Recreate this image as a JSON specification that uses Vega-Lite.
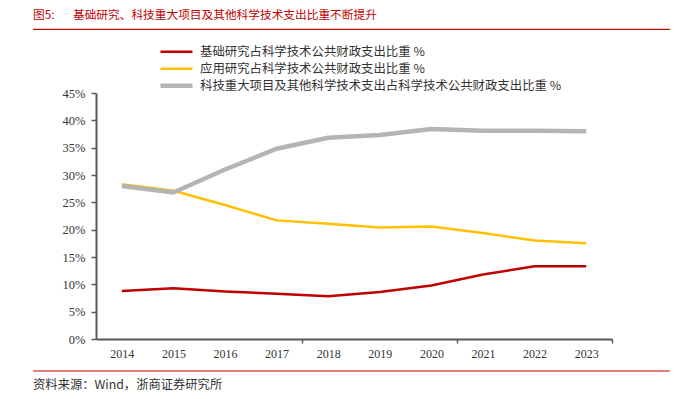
{
  "$schema": "https://vega.github.io/schema/vega-lite/v6.json",
  "width": 516,
  "height": 246,
  "autosize": "none",
  "padding": {"left": 96, "top": 93, "right": 72, "bottom": 60},
  "background": "white",
  "config": {"view": {"stroke": null}, "font": "Liberation Serif"},
  "datasets": {
    "series": [
      {"year": 2014, "series": "基础研究占科学技术公共财政支出比重 %", "value": 8.8},
      {"year": 2015, "series": "基础研究占科学技术公共财政支出比重 %", "value": 9.3},
      {"year": 2016, "series": "基础研究占科学技术公共财政支出比重 %", "value": 8.7},
      {"year": 2017, "series": "基础研究占科学技术公共财政支出比重 %", "value": 8.3},
      {"year": 2018, "series": "基础研究占科学技术公共财政支出比重 %", "value": 7.8},
      {"year": 2019, "series": "基础研究占科学技术公共财政支出比重 %", "value": 8.6},
      {"year": 2020, "series": "基础研究占科学技术公共财政支出比重 %", "value": 9.8},
      {"year": 2021, "series": "基础研究占科学技术公共财政支出比重 %", "value": 11.8},
      {"year": 2022, "series": "基础研究占科学技术公共财政支出比重 %", "value": 13.3},
      {"year": 2023, "series": "基础研究占科学技术公共财政支出比重 %", "value": 13.3},
      {"year": 2014, "series": "应用研究占科学技术公共财政支出比重 %", "value": 28.3},
      {"year": 2015, "series": "应用研究占科学技术公共财政支出比重 %", "value": 27.1},
      {"year": 2016, "series": "应用研究占科学技术公共财政支出比重 %", "value": 24.5},
      {"year": 2017, "series": "应用研究占科学技术公共财政支出比重 %", "value": 21.7},
      {"year": 2018, "series": "应用研究占科学技术公共财政支出比重 %", "value": 21.1},
      {"year": 2019, "series": "应用研究占科学技术公共财政支出比重 %", "value": 20.4},
      {"year": 2020, "series": "应用研究占科学技术公共财政支出比重 %", "value": 20.6},
      {"year": 2021, "series": "应用研究占科学技术公共财政支出比重 %", "value": 19.4},
      {"year": 2022, "series": "应用研究占科学技术公共财政支出比重 %", "value": 18.0},
      {"year": 2023, "series": "应用研究占科学技术公共财政支出比重 %", "value": 17.5},
      {"year": 2014, "series": "科技重大项目及其他科学技术支出占科学技术公共财政支出比重 %", "value": 28.0},
      {"year": 2015, "series": "科技重大项目及其他科学技术支出占科学技术公共财政支出比重 %", "value": 26.8},
      {"year": 2016, "series": "科技重大项目及其他科学技术支出占科学技术公共财政支出比重 %", "value": 31.0},
      {"year": 2017, "series": "科技重大项目及其他科学技术支出占科学技术公共财政支出比重 %", "value": 34.8},
      {"year": 2018, "series": "科技重大项目及其他科学技术支出占科学技术公共财政支出比重 %", "value": 36.8},
      {"year": 2019, "series": "科技重大项目及其他科学技术支出占科学技术公共财政支出比重 %", "value": 37.3},
      {"year": 2020, "series": "科技重大项目及其他科学技术支出占科学技术公共财政支出比重 %", "value": 38.4},
      {"year": 2021, "series": "科技重大项目及其他科学技术支出占科学技术公共财政支出比重 %", "value": 38.1},
      {"year": 2022, "series": "科技重大项目及其他科学技术支出占科学技术公共财政支出比重 %", "value": 38.1},
      {"year": 2023, "series": "科技重大项目及其他科学技术支出占科学技术公共财政支出比重 %", "value": 38.0}
    ],
    "rules": [
      {"x": -12.2, "x2": 111.2, "y": 56.65},
      {"x": -12.2, "x2": 111.2, "y": -5.85}
    ],
    "titles": [
      {"x": -12.2, "y": 59.3, "t": "图5:"},
      {"x": -4.46, "y": 59.3, "t": "基础研究、科技重大项目及其他科学技术支出比重不断提升"}
    ],
    "source": [
      {"x": -12.2, "y": -8.41, "t": "资料来源：Wind，浙商证券研究所"}
    ]
  },
  "layer": [
    {
      "data": {"name": "series"},
      "mark": {"type": "line"},
      "encoding": {
        "x": {
          "field": "year",
          "type": "ordinal",
          "scale": {"type": "band", "paddingInner": 0, "paddingOuter": 0},
          "axis": {
            "title": null,
            "labelAngle": 0,
            "tickBand": "extent",
            "tickOpacity": {"condition": {"test": "datum.value === 2017 || datum.value === 2020 || datum.value === 2023", "value": 1}, "value": 0},
            "tickColor": "#595959",
            "domainColor": "#595959",
            "domainWidth": 2,
            "tickWidth": 1.5,
            "tickSize": 4,
            "labelFont": "Liberation Serif",
            "labelFontSize": 12,
            "labelColor": "#333333",
            "labelPadding": 5
          }
        },
        "y": {
          "field": "value",
          "type": "quantitative",
          "scale": {"domain": [0, 45], "nice": false, "zero": false},
          "axis": {
            "title": null,
            "orient": "left",
            "values": [0, 5, 10, 15, 20, 25, 30, 35, 40, 45],
            "labelExpr": "datum.value + '%'",
            "labelOverlap": false,
            "labelFlush": false,
            "grid": false,
            "domainColor": "#595959",
            "domainWidth": 2,
            "tickColor": "#595959",
            "tickWidth": 1.5,
            "tickSize": 5,
            "labelFont": "Liberation Serif",
            "labelFontSize": 12.5,
            "labelColor": "#333333",
            "labelPadding": 6
          }
        },
        "color": {
          "field": "series",
          "type": "nominal",
          "scale": {
            "domain": ["基础研究占科学技术公共财政支出比重 %", "应用研究占科学技术公共财政支出比重 %", "科技重大项目及其他科学技术支出占科学技术公共财政支出比重 %"],
            "range": ["#C00000", "#FFC000", "#B4B4B4"]
          },
          "legend": {
            "orient": "none", "legendX": 62, "legendY": -49.5, "title": null,
            "symbolType": "stroke", "symbolSize": 1024, "clipHeight": 16.5, "rowPadding": 0,
            "labelFont": "Noto Sans CJK SC", "labelFontSize": 12.4, "labelColor": "#333333",
            "labelOffset": 5, "padding": 0, "labelLimit": 600
          }
        },
        "strokeWidth": {
          "field": "series",
          "type": "ordinal",
          "scale": {
            "type": "ordinal",
            "domain": ["基础研究占科学技术公共财政支出比重 %", "应用研究占科学技术公共财政支出比重 %", "科技重大项目及其他科学技术支出占科学技术公共财政支出比重 %"],
            "range": [2.5, 2.5, 4.5]
          },
          "legend": {
            "orient": "none", "legendX": 62, "legendY": -49.5, "title": null,
            "symbolType": "stroke", "symbolSize": 1024, "clipHeight": 16.5, "rowPadding": 0,
            "labelFont": "Noto Sans CJK SC", "labelFontSize": 12.4, "labelColor": "#333333",
            "labelOffset": 5, "padding": 0, "labelLimit": 600
          }
        }
      }
    },
    {
      "data": {"name": "rules"},
      "mark": {"type": "rule", "clip": false, "color": "#C00000", "strokeWidth": 1.2},
      "encoding": {
        "x": {"field": "x", "type": "quantitative", "scale": {"domain": [0, 100], "nice": false, "zero": false}, "axis": null},
        "x2": {"field": "x2"},
        "y": {"field": "y", "type": "quantitative", "axis": null}
      }
    },
    {
      "data": {"name": "titles"},
      "mark": {"type": "text", "align": "left", "baseline": "middle", "font": "Noto Sans CJK SC", "fontSize": 11.7, "color": "#C00000"},
      "encoding": {
        "x": {"field": "x", "type": "quantitative", "scale": {"domain": [0, 100], "nice": false, "zero": false}, "axis": null},
        "y": {"field": "y", "type": "quantitative", "axis": null},
        "text": {"field": "t"}
      }
    },
    {
      "data": {"name": "source"},
      "mark": {"type": "text", "align": "left", "baseline": "middle", "font": "Noto Sans CJK SC", "fontSize": 12.3, "color": "#333333"},
      "encoding": {
        "x": {"field": "x", "type": "quantitative", "scale": {"domain": [0, 100], "nice": false, "zero": false}, "axis": null},
        "y": {"field": "y", "type": "quantitative", "axis": null},
        "text": {"field": "t"}
      }
    }
  ],
  "resolve": {"scale": {"x": "independent"}, "axis": {"y": "independent"}}
}
